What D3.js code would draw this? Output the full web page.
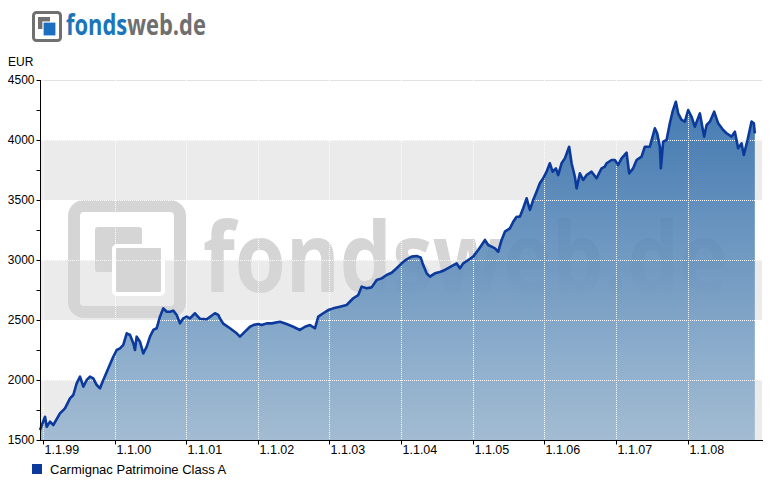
<!DOCTYPE html>
<html><head><meta charset="utf-8">
<script src="https://cdn.jsdelivr.net/npm/d3@7"></script>
<style>body{margin:0;background:#fff}svg{display:block}text{font-family:"Liberation Sans",Arial,sans-serif}</style>
</head><body><svg id="c" width="775" height="480"></svg>
<script>
// Decimal year of each reading and fund value in EUR
const years = [1998.958,1999.028,1999.052,1999.098,1999.144,1999.237,1999.307,1999.377,1999.423,1999.470,1999.517,1999.563,1999.610,1999.656,1999.702,1999.750,1999.796,1999.842,1999.912,1999.981,
2000.029,2000.075,2000.121,2000.169,2000.215,2000.261,2000.284,2000.308,2000.354,2000.400,2000.448,2000.494,2000.540,2000.587,2000.633,2000.680,2000.727,2000.773,2000.819,2000.867,2000.913,2000.959,
2001.006,2001.052,2001.122,2001.192,2001.285,2001.401,2001.447,2001.471,2001.517,2001.611,2001.704,2001.750,2001.820,2001.890,2001.936,
2002.006,2002.053,2002.123,2002.193,2002.309,2002.402,2002.494,2002.588,2002.658,2002.728,2002.797,2002.844,2002.913,2002.983,
2003.053,2003.146,2003.240,2003.332,2003.402,2003.449,2003.519,2003.589,2003.659,2003.729,2003.798,2003.868,2003.938,
2004.008,2004.078,2004.147,2004.217,2004.273,2004.309,2004.357,2004.403,2004.473,2004.542,2004.612,2004.682,2004.776,2004.822,2004.868,2004.938,
2005.007,2005.077,2005.125,2005.171,2005.217,2005.264,2005.311,2005.357,2005.404,2005.450,2005.520,2005.566,2005.613,2005.659,2005.705,2005.753,2005.799,2005.845,2005.892,2005.938,2005.985,
2006.032,2006.078,2006.116,2006.162,2006.194,2006.241,2006.287,2006.347,2006.381,2006.427,2006.451,2006.497,2006.543,2006.591,2006.660,2006.730,2006.776,2006.800,2006.846,2006.869,2006.939,2006.985,
2007.032,2007.079,2007.149,2007.185,2007.241,2007.289,2007.358,2007.404,2007.474,2007.512,2007.544,2007.576,2007.614,2007.628,2007.660,2007.707,2007.753,2007.791,2007.837,2007.869,2007.917,2007.963,
2008.009,2008.056,2008.102,2008.172,2008.232,2008.266,2008.312,2008.372,2008.428,2008.498,2008.545,2008.615,2008.661,2008.707,2008.754,2008.786,2008.833,2008.894,2008.926,2008.940];
const values = [1583,1694,1611,1653,1625,1722,1764,1847,1875,1972,2028,1944,2000,2028,2014,1958,1931,2000,2097,2194,
2250,2264,2292,2389,2375,2306,2250,2361,2319,2222,2278,2361,2417,2431,2528,2597,2569,2569,2578,2542,2472,2514,
2528,2514,2556,2510,2506,2556,2542,2514,2470,2431,2389,2361,2403,2444,2458,
2467,2458,2472,2472,2486,2467,2444,2417,2444,2458,2431,2528,2556,2583,
2597,2611,2625,2681,2708,2778,2764,2772,2833,2847,2875,2894,2931,
2972,3006,3028,3033,3022,2958,2889,2861,2889,2900,2917,2940,2972,2931,2972,3000,
3028,3083,3125,3167,3125,3111,3097,3069,3167,3236,3264,3319,3361,3361,3431,3514,3417,3500,3569,3639,3681,
3736,3806,3736,3764,3708,3806,3847,3944,3806,3694,3597,3722,3667,3708,3736,3681,3736,3764,3778,3806,3833,3833,
3792,3847,3894,3722,3764,3833,3861,3944,3944,4028,4097,4056,3944,3764,3986,4000,4139,4236,4319,4222,4167,4153,
4250,4194,4111,4222,4028,4125,4153,4236,4139,4083,4056,4028,4069,3931,3972,3875,3986,4153,4139,4056];
const tickYears = [1999,2000,2001,2002,2003,2004,2005,2006,2007,2008];
const tickLabels = ["1.1.99","1.1.00","1.1.01","1.1.02","1.1.03","1.1.04","1.1.05","1.1.06","1.1.07","1.1.08"];
const yTicks = [1500,2000,2500,3000,3500,4000,4500];
const yMinorTicks = [1750,2250,2750,3250,3750,4250];
const bands = [[1500,2000],[2500,3000],[3500,4000]];
const seriesName = "Carmignac Patrimoine Class A";
const unit = "EUR";

const data = years.map((y,i)=>({t:y,v:values[i]}));
const svg = d3.select("#c");
const L=40, R=762, T=80, B=440;
const x = d3.scaleLinear().domain([1998.958, 2009.04]).range([L,R]);
const y = d3.scaleLinear().domain([1500,4500]).range([B,T]);

// fit a text horizontally to a target width by scaling (keeps height)
function fitText(sel, x0, y0, w){
  const n = sel.node().getComputedTextLength();
  sel.attr("transform",`translate(${x0},${y0}) scale(${w/n},1)`);
}

// logo
const logo = svg.append("g");
logo.append("rect").attr("x",33.5).attr("y",12.5).attr("width",27).attr("height",28).attr("rx",3)
  .attr("fill","none").attr("stroke","#707070").attr("stroke-width",3);
logo.append("rect").attr("x",38).attr("y",17).attr("width",12).attr("height",12).attr("fill","#707070");
logo.append("rect").attr("x",43).attr("y",22).attr("width",13).attr("height",14).attr("fill","#1b6fc0").attr("stroke","#fff").attr("stroke-width",1.2);
const lt = logo.append("text").attr("font-size",28).attr("font-weight","bold")
  .style("font-family","'Open Sans',Lato,sans-serif");
lt.append("tspan").attr("fill","#1b75bb").text("fonds");
lt.append("tspan").attr("fill","#6f6f6f").text("web.de");
fitText(lt, 66, 35, 140);

// bands
svg.append("g").selectAll("rect").data(bands).join("rect")
  .attr("x",L).attr("width",R-L).attr("y",d=>y(d[1])).attr("height",d=>y(d[0])-y(d[1])).attr("fill","#ebebeb");

// watermark
const wm = svg.append("g").attr("fill","#d5d5d5");
wm.append("rect").attr("x",74).attr("y",206).attr("width",106).attr("height",106).attr("rx",10)
  .attr("fill","none").attr("stroke","#d5d5d5").attr("stroke-width",12);
wm.append("rect").attr("x",95).attr("y",227).attr("width",47).attr("height",45).attr("rx",3);
wm.append("rect").attr("x",114).attr("y",246).attr("width",49).attr("height",48).attr("rx",3).attr("stroke","#fff").attr("stroke-width",4);
const wt = wm.append("text").attr("font-size",97).attr("font-weight","bold")
  .style("font-family","'Open Sans',Lato,sans-serif").text("fondsweb.de");
fitText(wt, 203, 292, 525);

// gradient
const grad = svg.append("defs").append("linearGradient").attr("id","g1").attr("gradientUnits","userSpaceOnUse")
  .attr("x1",0).attr("x2",0).attr("y1",T).attr("y2",B);
grad.append("stop").attr("offset","0%").attr("stop-color","#2a68a8");
grad.append("stop").attr("offset","100%").attr("stop-color","#9bb7d0");

svg.append("path").datum(data).attr("fill","url(#g1)").attr("fill-opacity",0.9)
  .attr("d",d3.area().x(d=>x(d.t)).y0(B).y1(d=>y(d.v)));

// grid
svg.append("line").attr("x1",L).attr("x2",R).attr("y1",y(4500)+0.5).attr("y2",y(4500)+0.5).attr("stroke","#e2e2e2");
svg.append("g").selectAll("line").data(yTicks.filter(v=>v>1500&&v<4500)).join("line")
  .attr("x1",L).attr("x2",R).attr("y1",d=>Math.round(y(d))+0.5).attr("y2",d=>Math.round(y(d))+0.5)
  .attr("stroke","#fff").attr("stroke-dasharray","1,1");
svg.append("g").selectAll("line").data(tickYears).join("line")
  .attr("x1",d=>Math.round(x(d))+0.5).attr("x2",d=>Math.round(x(d))+0.5).attr("y1",T).attr("y2",B)
  .attr("stroke","#fff").attr("stroke-dasharray","1,1");

// line
svg.append("path").datum(data).attr("fill","none").attr("stroke","#0b3a9c").attr("stroke-width",2.6)
  .attr("stroke-linejoin","round").attr("d",d3.line().x(d=>x(d.t)).y(d=>y(d.v)));

// axes
const ya = svg.append("g").attr("transform",`translate(${L+0.5},0)`)
  .call(d3.axisLeft(y).tickValues(yTicks.concat(yMinorTicks)).tickSize(4).tickPadding(2)
    .tickFormat(d=>yTicks.includes(d)?d:""));
ya.select(".domain").attr("stroke","#000").attr("d",`M0,${T}V${B}`);
ya.selectAll("text").attr("font-size",12).attr("fill","#000").style("font-family","'Liberation Sans',Arial,sans-serif");
ya.selectAll(".tick line").attr("stroke","#000");

const xa = svg.append("g").attr("transform",`translate(0,${B+0.5})`)
  .call(d3.axisBottom(x).tickValues(tickYears).tickSize(4).tickFormat((d,i)=>tickLabels[i]));
xa.select(".domain").attr("stroke","#000").attr("d",`M${L},0H${R+1}`);
xa.selectAll(".tick").attr("transform",d=>`translate(${Math.round(x(d))+0.5},0)`);
xa.selectAll(".tick line").attr("stroke","#000");
xa.selectAll("text").attr("font-size",12.5).attr("fill","#000").attr("text-anchor","start").attr("x",1).attr("dy",null).attr("y",13)
  .style("font-family","'Liberation Sans',Arial,sans-serif");

svg.append("text").attr("x",8).attr("y",66).attr("font-size",12).text(unit);

// legend
svg.append("rect").attr("x",32).attr("y",464).attr("width",10).attr("height",10).attr("fill","#0b3a9c");
svg.append("text").attr("x",50).attr("y",474).attr("font-size",13).attr("fill","#000").text(seriesName);
</script></body></html>
